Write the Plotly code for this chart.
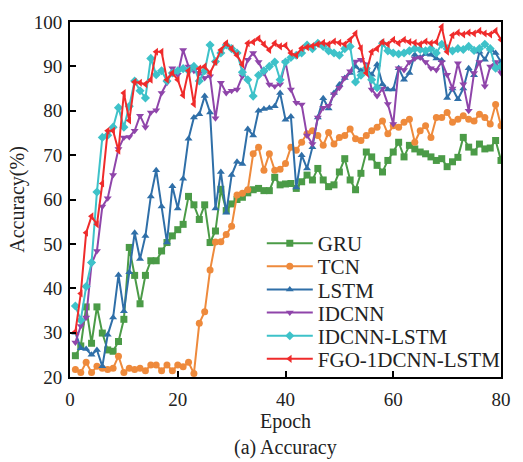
import plotly.graph_objects as go

epochs = list(range(1, 81))

gru = [24.8, 27.0, 35.8, 27.6, 35.8, 29.9, 26.1, 25.8, 28.0, 33.0,
       49.2, 42.9, 36.5, 42.9, 46.2, 46.2, 48.4, 50.3, 51.8, 53.2,
       54.4, 60.7, 58.8, 55.5, 58.8, 50.3, 52.9, 62.3, 57.5, 59.0,
       60.0, 60.5, 61.5, 62.2, 62.5, 62.0, 62.0, 65.0, 63.3, 63.5,
       63.6, 62.5, 64.0, 65.5, 64.4, 67.0, 64.4, 62.9, 63.3, 66.2,
       69.2, 64.4, 62.2, 65.9, 70.7, 69.6, 67.7, 66.2, 68.8, 70.7,
       72.9, 69.6, 72.2, 71.4, 70.7, 70.3, 69.6, 68.8, 69.2, 67.4,
       68.5, 69.5, 74.0, 71.8, 70.7, 72.5, 71.4, 71.6, 73.3, 68.8]

tcn = [21.7, 21.0, 23.3, 21.0, 22.4, 22.0, 21.7, 22.0, 24.7, 21.0,
       22.0, 21.7, 22.0, 21.4, 22.7, 22.7, 21.4, 22.7, 21.4, 22.7,
       22.3, 23.3, 20.8, 32.1, 34.7, 44.1, 50.4, 50.5, 52.1, 54.0,
       61.0, 61.4, 62.2, 70.3, 71.8, 66.6, 70.3, 66.6, 66.8, 68.1,
       71.8, 71.1, 72.9, 74.8, 75.5, 74.4, 72.2, 75.1, 72.5, 74.0,
       74.4, 75.9, 73.7, 73.3, 74.4, 75.5, 76.3, 77.7, 74.8, 76.6,
       76.3, 77.4, 78.1, 72.9, 75.5, 76.6, 74.0, 78.5, 78.5, 79.6,
       77.4, 78.1, 78.9, 78.1, 77.7, 79.2, 78.5, 77.0, 81.4, 76.6]

lstm = [30.0, 26.5, 26.3, 25.0, 26.1, 22.4, 29.5, 33.4, 43.0, 34.8,
        43.6, 52.5, 46.6, 51.8, 60.7, 66.6, 58.4, 50.3, 63.0, 58.0,
        64.7, 73.7, 78.5, 79.2, 83.3, 79.6, 58.0, 66.2, 57.0, 65.5,
        68.5, 68.0, 75.9, 74.4, 80.0, 80.4, 80.6, 81.0, 84.0, 78.0,
        78.7, 62.7, 70.0, 67.0, 71.8, 78.5, 82.8, 80.5, 84.0, 85.9,
        87.4, 88.5, 90.0, 89.0, 89.5, 88.1, 90.4, 86.0, 84.8, 84.8,
        89.6, 87.0, 88.5, 92.6, 92.0, 92.8, 92.6, 91.8, 91.4, 82.9,
        85.0, 82.6, 85.0, 89.6, 88.0, 93.3, 91.5, 94.0, 93.0, 91.0]

idcnn = [27.8, 31.5, 33.4, 45.5, 48.4, 58.4, 60.3, 65.5, 71.4, 74.0,
         74.1, 75.5, 78.9, 76.3, 79.6, 80.1, 84.0, 86.3, 89.6, 88.1,
         93.7, 90.0, 89.0, 88.5, 87.4, 87.8, 78.3, 86.3, 84.0, 84.5,
         84.8, 87.8, 91.5, 93.0, 91.0, 88.5, 85.9, 85.5, 86.0, 91.0,
         84.8, 81.8, 81.4, 74.4, 72.5, 78.5, 80.7, 81.1, 83.7, 85.2,
         87.4, 88.9, 91.1, 91.5, 90.5, 84.8, 83.3, 85.0, 81.5, 77.0,
         89.6, 89.2, 91.0, 91.8, 92.0, 91.0, 89.6, 89.2, 91.0, 88.1,
         85.0, 90.7, 86.0, 80.0, 88.5, 91.0, 85.5, 90.0, 91.0, 88.5]

idcnn_lstm = [36.0, 32.8, 40.4, 45.8, 61.7, 74.0, 74.5, 76.3, 80.7, 76.3,
              81.0, 86.7, 84.5, 82.9, 91.8, 88.1, 89.0, 86.7, 88.5, 89.0,
              89.5, 89.0, 90.0, 86.7, 89.0, 94.8, 91.1, 93.0, 94.8, 94.0,
              93.0, 88.7, 87.0, 83.3, 88.0, 89.0, 90.0, 91.0, 87.0, 91.0,
              92.0, 92.5, 93.0, 94.8, 94.0, 95.2, 94.5, 93.5, 93.0, 92.5,
              94.0, 94.5, 86.5, 88.0, 89.6, 87.0, 85.2, 95.2, 93.5, 93.0,
              92.8, 93.0, 93.5, 94.0, 93.8, 93.5, 94.0, 93.0, 95.0, 94.0,
              93.5, 94.0, 93.8, 94.5, 93.6, 94.0, 95.0, 94.0, 89.6, 90.0]

fgo = [30.2, 38.8, 52.5, 56.2, 54.4, 63.6, 75.5, 75.5, 71.0, 84.0,
       77.8, 86.5, 86.3, 86.0, 87.0, 93.3, 93.3, 87.0, 88.5, 87.0,
       83.5, 89.0, 81.5, 89.5, 90.0, 88.5, 91.0, 93.7, 95.2, 94.0,
       92.5, 90.4, 95.2, 95.5, 96.3, 95.0, 93.7, 95.2, 94.5, 94.7,
       93.0, 92.5, 94.1, 94.3, 94.6, 95.0, 95.3, 95.0, 95.6, 95.3,
       95.0, 96.0, 97.4, 94.1, 88.5, 93.3, 94.0, 95.5, 95.0, 96.0,
       95.2, 96.0, 95.5, 95.3, 95.0, 95.6, 95.2, 95.5, 98.9, 93.3,
       97.0, 97.6, 97.2, 97.6, 97.4, 98.0, 97.4, 97.2, 98.0, 96.0]

series = [
    ("GRU", gru, "#4b9b47", "square"),
    ("TCN", tcn, "#ee8a3c", "circle"),
    ("LSTM", lstm, "#2f6fa8", "triangle-up"),
    ("IDCNN", idcnn, "#8f45aa", "triangle-down"),
    ("IDCNN-LSTM", idcnn_lstm, "#3ec2c9", "diamond"),
    ("FGO-1DCNN-LSTM", fgo, "#ef2b2b", "triangle-left"),
]

FONT = "Liberation Serif, Times New Roman, serif"
W, H = 523, 462
ML, MR, MT, MB = 70, 12, 18, 85
PH = H - MT - MB

fig = go.Figure()
legend_layouts = {}
# one single-item legend per series, stacked with the reference's row spacing
row_px_top, row_gap = 242, 23.4
for i, (name, vals, color, sym) in enumerate(series):
    lg = "legend" if i == 0 else f"legend{i + 1}"
    fig.add_trace(go.Scatter(
        x=epochs, y=vals, name=name, mode="lines+markers",
        line=dict(color=color, width=2),
        marker=dict(symbol=sym, size=7, color=color),
        legend=lg,
    ))
    ypx = row_px_top + i * row_gap
    legend_layouts[lg] = dict(
        x=0.445, y=(H - MB - ypx) / PH, xanchor="left", yanchor="middle",
        bgcolor="rgba(0,0,0,0)", font=dict(size=21, family=FONT, color="#222"),
        itemwidth=46,
    )

fig.update_layout(
    width=W, height=H,
    margin=dict(l=ML, r=MR, t=MT, b=MB),
    paper_bgcolor="white", plot_bgcolor="white",
    font=dict(family=FONT, size=19, color="#222"),
    showlegend=True,
    xaxis=dict(range=[0, 80], tickvals=[0, 20, 40, 60, 80],
               ticks="inside", ticklen=6, tickwidth=1.5, tickcolor="black",
               showline=True, linecolor="black", linewidth=2, mirror=True,
               showgrid=False, zeroline=False, ticklabelstandoff=4,
               title=dict(text="Epoch", standoff=4, font=dict(size=20)),
               tickfont=dict(size=19)),
    yaxis=dict(range=[20, 100], tickvals=list(range(20, 101, 10)),
               ticks="inside", ticklen=6, tickwidth=1.5, tickcolor="black",
               showline=True, linecolor="black", linewidth=2, mirror=True,
               showgrid=False, zeroline=False, ticklabelstandoff=2,
               title=dict(text="Accuracy(%)", standoff=4, font=dict(size=20)),
               tickfont=dict(size=19)),
    annotations=[dict(text="(a) Accuracy", xref="paper", yref="paper",
                      x=0.5, y=(H - MB - 448) / PH, xanchor="center", yanchor="middle",
                      showarrow=False, font=dict(size=20, family=FONT, color="#222"))],
    **legend_layouts,
)

fig.write_html("out.html")
